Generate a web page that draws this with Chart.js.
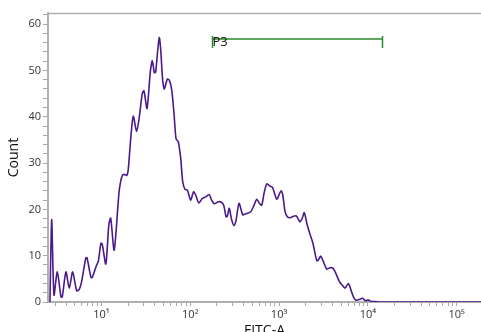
<!DOCTYPE html>
<html lang="en">
  <head>
    <meta charset="UTF-8" />
    <title>FITC-A histogram</title>
    <script src="https://cdn.jsdelivr.net/npm/chart.js"></script>
    <style>
      body { margin: 0; background: #fff; }
    </style>
  </head>
  <body>
    <canvas id="histChart" width="481" height="332"></canvas>

    <script>
      // FITC-A channel values (log axis) and event counts
      const fitc = [
        2.63, 2.75, 2.92, 3.18, 3.5, 3.62, 3.98, 4.34, 4.74, 5.26,
        5.62, 5.98, 6.64, 6.86, 7.62, 7.88, 8.83, 9.2, 9.87, 10.2,
        11.2, 12.1, 12.7, 13.9, 15.5, 15.9, 16.9, 17.9, 19.2, 20.0,
        21.3, 22.8, 24.9, 26.7, 28.8, 30.1, 32.6, 35.5, 37.4, 39.4,
        40.8, 42.5, 44.8, 46.5, 48.9, 51.0, 55.1, 58.1, 61.8, 65.6,
        69.1, 73.3, 78.1, 82.2, 87.3, 92.6, 101, 109, 115, 125,
        137, 149, 163, 174, 187, 204, 222, 238, 253, 262,
        275, 293, 311, 328, 354, 390, 414, 433, 480, 523,
        561, 600, 638, 678, 727, 792, 841, 885, 942, 1008,
        1053, 1101, 1168, 1240, 1330, 1449, 1567, 1725, 1840, 1923,
        2068, 2235, 2398, 2660, 2773, 2951, 3157, 3448, 3754, 4029,
        4355, 4779, 5221, 5542, 6037, 6425, 6875, 7373, 8178, 8770,
        9311, 10140, 11080, 12070, 13750, 189000
      ];
      const counts = [
        0, 17.8, 1.5, 6.5, 1.1, 1.1, 6.5, 3, 6.5, 2.4,
        2.7, 4.4, 9.4, 9.6, 5.3, 5.3, 8, 8.7, 12.7, 12.5,
        8.2, 16.6, 18.1, 11.2, 22, 24.3, 27, 27.6, 27.3, 28.5,
        35, 40.1, 36.8, 40, 45, 45.6, 41.8, 49.7, 52.1, 49.5,
        49.7, 53.3, 57.1, 54.4, 47.9, 46, 48.1, 47.9, 45.8, 40.7,
        35.3, 34.6, 31, 26, 24.3, 24.2, 22, 23.8, 23.1, 21.4,
        22.4, 22.7, 23.2, 22, 21.2, 21.6, 21.6, 20.9, 18.4, 18.6,
        20.2, 17.7, 16.5, 17.7, 21.3, 18.8, 19, 19.1, 19.5, 20.9,
        22.2, 21.3, 20.9, 23.5, 25.5, 25, 24.8, 23.6, 22.2, 23.3,
        24, 23.1, 19.5, 18.4, 18.2, 18.5, 18.6, 17.3, 18.3, 19.3,
        16.8, 14.6, 12.8, 8.9, 9.1, 9.9, 8.7, 7.1, 7.4, 7.3,
        6.2, 4.4, 3.5, 3, 4, 2.7, 1.1, 0.4, 0.6, 0.8,
        0.3, 0.4, 0.1, 0.1, 0, 0
      ];

      // gate P3
      const gateName = "P3";
      const gateRange = [178, 14600];
      const gateLevel = 56.8;

      // axis ticks
      const xMajor = [10, 100, 1000, 10000, 100000];
      const xMinorFactors = [2, 3, 4, 5, 6, 7, 8, 9];
      const xMin = 2.5;
      const xMax = 188000;
      const yMax = 62.4;
      const yStep = 2;
      const yLabelStep = 10;

      const sup = { 1: "\u00B9", 2: "\u00B2", 3: "\u00B3", 4: "\u2074", 5: "\u2075" };

      // build x tick list: minor ticks per decade plus powers of ten
      const xTicks = [];
      [1, 10, 100, 1000, 10000, 100000].forEach((dec) => {
        if (dec >= xMin && dec <= xMax) xTicks.push(dec);
        xMinorFactors.forEach((f) => {
          const v = f * dec;
          if (v >= xMin && v <= xMax) xTicks.push(v);
        });
      });
      xTicks.sort((a, b) => a - b);

      const yTicks = [];
      for (let v = 0; v <= yMax; v += yStep) yTicks.push(v);

      const histPoints = fitc.map((x, i) => ({ x: x, y: counts[i] }));

      // top frame line + gate end caps and label
      const framePlugin = {
        id: "frame",
        afterDraw(chart) {
          const { ctx, chartArea, scales } = chart;
          ctx.save();
          ctx.strokeStyle = "#b0b0b0";
          ctx.lineWidth = 1.5;
          ctx.beginPath();
          ctx.moveTo(chartArea.left, chartArea.top + 0.5);
          ctx.lineTo(chartArea.right, chartArea.top + 0.5);
          ctx.stroke();

          const yPx = scales.y.getPixelForValue(gateLevel);
          ctx.strokeStyle = "#2a8a2a";
          ctx.lineWidth = 1.5;
          gateRange.forEach((g) => {
            const xPx = Math.round(scales.x.getPixelForValue(g)) + 0.5;
            ctx.beginPath();
            ctx.moveTo(xPx, yPx - 3);
            ctx.lineTo(xPx, yPx + 9);
            ctx.stroke();
          });
          ctx.fillStyle = "#111";
          ctx.font = "13px 'Open Sans', sans-serif";
          ctx.textBaseline = "middle";
          ctx.textAlign = "left";
          ctx.fillText(gateName, scales.x.getPixelForValue(gateRange[0]), yPx + 3);
          ctx.restore();
        },
      };

      new Chart(document.getElementById("histChart"), {
        type: "line",
        data: {
          datasets: [
            {
              label: "FITC-A",
              data: histPoints,
              borderColor: "#4a1a8c",
              borderWidth: 1.6,
              pointRadius: 0,
              fill: false,
              tension: 0.25,
            },
            {
              label: gateName,
              data: gateRange.map((g) => ({ x: g, y: gateLevel })),
              borderColor: "#2a8a2a",
              borderWidth: 1.5,
              pointRadius: 0,
              fill: false,
            },
          ],
        },
        options: {
          responsive: false,
          animation: false,
          layout: { padding: { top: 13, left: 0, right: 0, bottom: 0 } },
          plugins: {
            legend: { display: false },
            tooltip: { enabled: false },
          },
          scales: {
            x: {
              type: "logarithmic",
              min: xMin,
              max: xMax,
              afterBuildTicks: (scale) => {
                scale.ticks = xTicks.map((v) => ({ value: v }));
              },
              afterFit: (scale) => {
                scale.height = 30;
              },
              ticks: {
                autoSkip: false,
                maxRotation: 0,
                padding: 2,
                color: "#333",
                font: { family: "'Open Sans', sans-serif", size: 11 },
                callback: (v) => {
                  const i = xMajor.indexOf(v);
                  return i >= 0 ? "10" + sup[i + 1] : "";
                },
              },
              grid: {
                drawOnChartArea: false,
                drawTicks: true,
                tickLength: 4,
                color: "#a8a8a8",
              },
              border: { display: true, color: "#b0b0b0", width: 2 },
              title: {
                display: true,
                text: "FITC-A",
                color: "#111",
                font: { family: "'Open Sans', sans-serif", size: 14 },
                padding: { top: 0, bottom: -7 },
              },
            },
            y: {
              min: 0,
              max: yMax,
              afterBuildTicks: (scale) => {
                scale.ticks = yTicks.map((v) => ({ value: v }));
              },
              afterFit: (scale) => {
                scale.width = 48;
              },
              ticks: {
                autoSkip: false,
                padding: 2,
                color: "#333",
                font: { family: "'Open Sans', sans-serif", size: 11 },
                callback: (v) => (v % yLabelStep === 0 ? String(v) : ""),
              },
              grid: {
                drawOnChartArea: false,
                drawTicks: true,
                tickLength: 5,
                color: "#a8a8a8",
              },
              border: { display: true, color: "#b0b0b0", width: 2 },
              title: {
                display: true,
                text: "Count",
                color: "#111",
                font: { family: "'Open Sans', sans-serif", size: 14 },
                padding: { top: 6, bottom: 0 },
              },
            },
          },
        },
        plugins: [framePlugin],
      });
    </script>
  </body>
</html>
